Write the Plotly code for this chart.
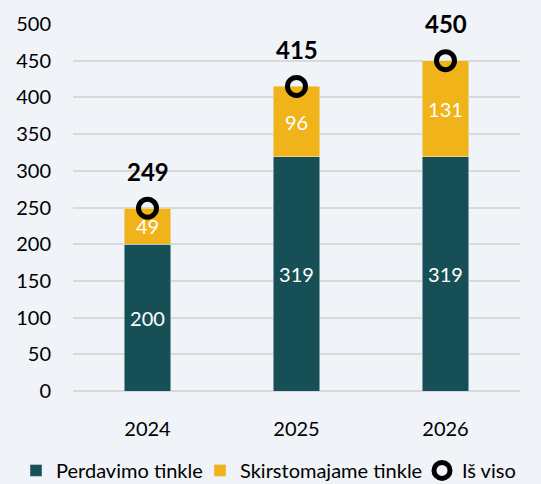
import plotly.graph_objects as go

years = ["2024", "2025", "2026"]
perdavimo = [200, 319, 319]
skirstomajame = [49, 96, 131]
totals = [249, 415, 450]

bg = "#F0F3F7"
teal = "#174F56"
gold = "#F0B41A"
font = "Lato"

fig = go.Figure()
fig.add_trace(go.Bar(
    x=years, y=perdavimo, name="Perdavimo tinkle", marker_color=teal,
    text=[str(v) for v in perdavimo], textposition="inside", insidetextanchor="middle",
    textfont=dict(color="white", size=20, family=font), legend="legend",
))
fig.add_trace(go.Bar(
    x=years, y=skirstomajame, name="Skirstomajame tinkle", marker_color=gold,
    text=[str(v) for v in skirstomajame], textposition="inside", insidetextanchor="middle",
    textfont=dict(color="white", size=20, family=font), legend="legend2",
))
fig.add_trace(go.Scatter(
    x=years, y=totals, name="Iš viso", mode="markers",
    marker=dict(symbol="circle-open", size=18, color="black", line=dict(width=5, color="black")),
    cliponaxis=False, legend="legend3",
))
for i, v in enumerate(totals):
    fig.add_annotation(x=i, y=v, text="<b>%d</b>" % v, showarrow=False,
                       yshift=37, font=dict(color="black", size=24, family=font))

leg_common = dict(orientation="h", xref="container", xanchor="left",
                  y=0.028, yref="container", yanchor="middle",
                  font=dict(size=20, family=font, color="black"), itemwidth=30,
                  bgcolor="rgba(0,0,0,0)", borderwidth=0)

fig.update_layout(
    barmode="stack", bargap=0.69,
    width=541, height=484,
    margin=dict(l=73, r=21, t=24, b=93, autoexpand=False),
    paper_bgcolor=bg, plot_bgcolor=bg,
    font=dict(family=font, size=20, color="black"),
    showlegend=True,
    legend=dict(x=16 / 541, **leg_common),
    legend2=dict(x=200 / 541, **leg_common),
    legend3=dict(x=422 / 541, **leg_common),
    uniformtext=dict(mode="show", minsize=10),
)
fig.update_yaxes(range=[0, 500], dtick=50, showgrid=True, gridcolor="#D9D9D9", gridwidth=2,
                 zeroline=True, zerolinecolor="#D9D9D9", zerolinewidth=2,
                 ticks="", ticklabelstandoff=21, tickfont=dict(size=20))
fig.update_xaxes(type="category", range=[-0.5, 2.5], showline=False, ticks="",
                 ticklabelstandoff=24, tickfont=dict(size=20))

fig.write_html("out.html")
